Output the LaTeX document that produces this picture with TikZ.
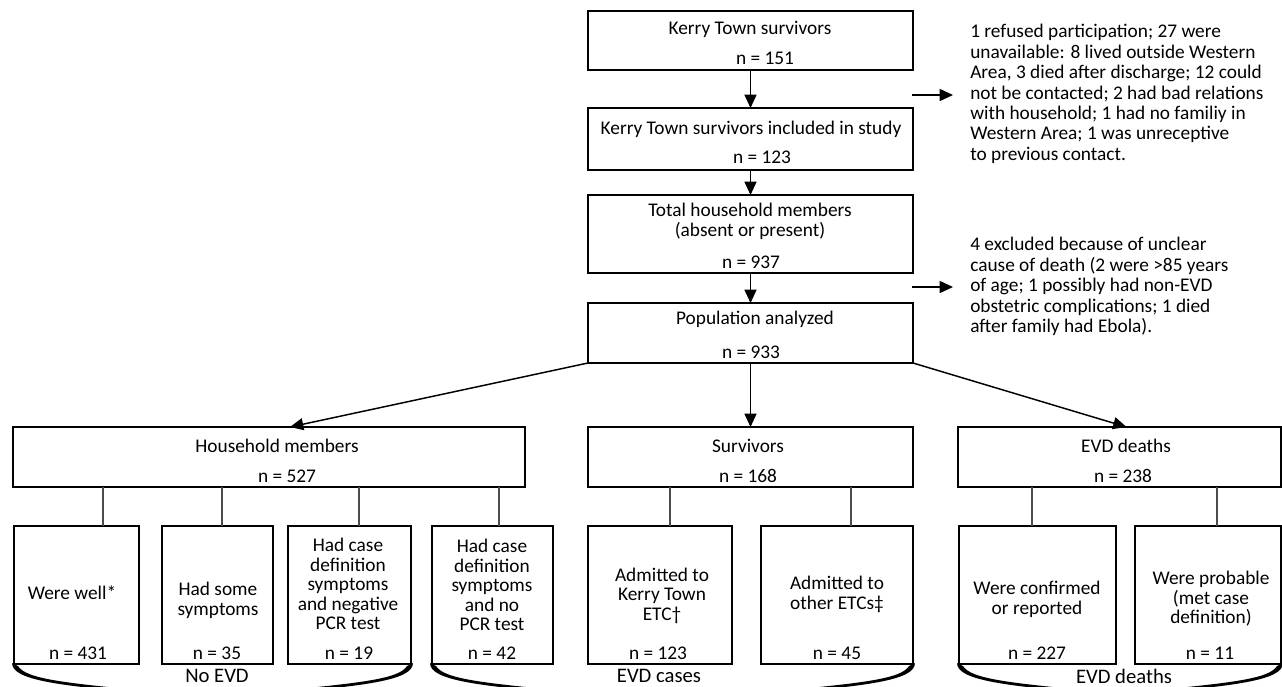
\documentclass[tikz,border=0pt]{standalone}
\usepackage{fontspec}
\setmainfont{Carlito}
\usetikzlibrary{arrows.meta,calc}
\newcommand\mkbox[5]{\node[box, minimum width={(#4-#2)*0.75pt}, minimum height={(#5-#3)*0.75pt}] (#1) at ({(#2+#4)/2},{(#3+#5)/2}) {};}
\newcommand\brc[2]{\fill (#1-2,663) .. controls (#1-2,681) and (#1+50,686) .. (#1+140,694) -- (#2-140,694) .. controls (#2-50,686) and (#2+2,681) .. (#2+2,663) -- (#2-4,666) .. controls (#2-12,679) and (#2-50,683) .. (#2-140,691.5) -- (#1+140,691.5) .. controls (#1+50,683) and (#1+12,679) .. (#1+4,666) -- cycle;}
\begin{document}
\begin{tikzpicture}[x=0.75pt,y=-0.75pt,
  box/.style={draw=black, line width=1.5pt, rectangle, inner sep=0pt, outer sep=0pt},
  txt/.style={inner sep=0pt, yshift=-2.25pt, align=center, font=\fontsize{14.5}{14.7}\selectfont, execute at begin node=\strut, execute at end node=\strut},
  ann/.style={inner sep=0pt, yshift=-2.25pt, align=left, anchor=west, font=\fontsize{14.5}{15.3}\selectfont, execute at begin node=\strut, execute at end node=\strut},
  lab/.style={inner sep=0pt, font=\fontsize{15.5}{16}\selectfont},
  arr/.style={line width=1.1pt, -{Triangle[length=10pt,width=9pt]}},
  conn/.style={line width=0.8pt, draw=black!70}]
\useasboundingbox (0,0) rectangle (1282,686);
\clip (0,0) rectangle (1282,686);
% top column
\mkbox{b1}{588}{11}{913}{70}
\mkbox{b2}{588}{108}{913}{170}
\mkbox{b3}{588}{195}{913}{273}
\mkbox{b4}{588}{303}{913}{363}
\node[txt] (t1a) at (750,28) {Kerry Town survivors};
\node[txt] (t1b) at (765,58) {n = 151};
\node[txt] (t2a) at (751,128) {Kerry Town survivors included in study};
\node[txt] (t2b) at (762,157) {n = 123};
\node[txt] (t3a) at (750,220) {Total household members\\(absent or present)};
\node[txt] (t3b) at (751,262) {n = 937};
\node[txt] (t4a) at (755,318) {Population analyzed};
\node[txt] (t4b) at (751,352) {n = 933};
% middle row
\mkbox{hm}{13}{427}{525}{487}
\mkbox{sv}{588}{427}{913}{487}
\mkbox{ed}{958}{427}{1281}{487}
\node[txt] (thma) at (277,446) {Household members};
\node[txt] (thmb) at (287,476) {n = 527};
\node[txt] (tsva) at (748,446) {Survivors};
\node[txt] (tsvb) at (748,476) {n = 168};
\node[txt] (teda) at (1126,446) {EVD deaths};
\node[txt] (tedb) at (1123,476) {n = 238};
% bottom row
\mkbox{bw1}{14}{526}{139}{664}
\mkbox{bw2}{162}{526}{273}{664}
\mkbox{bw3}{288}{526}{411}{664}
\mkbox{bw4}{432}{526}{553}{664}
\mkbox{bs1}{588}{526}{732}{664}
\mkbox{bs2}{761}{526}{913}{664}
\mkbox{bd1}{959}{526}{1116}{664}
\mkbox{bd2}{1135}{526}{1281}{664}
\node[txt] (tw1a) at (72,593) {Were well*};
\node[txt] (tw1b) at (78,653) {n = 431};
\node[txt] (tw2a) at (218,598.5) {Had some\\symptoms};
\node[txt] (tw2b) at (217,653) {n = 35};
\node[txt] (tw3a) at (348,584) {Had case\\definition\\symptoms\\and negative\\PCR test};
\node[txt] (tw3b) at (349,653) {n = 19};
\node[txt] (tw4a) at (492,585) {Had case\\definition\\symptoms\\and no\\PCR test};
\node[txt] (tw4b) at (492,653) {n = 42};
\node[txt] (ts1a) at (662,594) {Admitted to\\Kerry Town\\ETC†};
\node[txt] (ts1b) at (658,653) {n = 123};
\node[txt] (ts2a) at (837,593) {Admitted to\\other ETCs‡};
\node[txt] (ts2b) at (837,653) {n = 45};
\node[txt] (td1a) at (1037,598) {Were confirmed\\or reported};
\node[txt] (td1b) at (1037,653) {n = 227};
\node[txt] (td2a) at (1211,597.5) {Were probable\\(met case\\definition)};
\node[txt] (td2b) at (1210,653) {n = 11};
% annotations
\node[ann] (a1) at (970,92.5) {1 refused participation; 27 were\\unavailable: 8 lived outside Western\\Area, 3 died after discharge; 12 could\\not be contacted; 2 had bad relations\\with household; 1 had no familiy in\\Western Area; 1 was unreceptive\\to previous contact.};
\node[ann] (a2) at (970,285) {4 excluded because of unclear\\cause of death (2 were >85 years\\of age; 1 possibly had non-EVD\\obstetric complications; 1 died\\after family had Ebola).};
% arrows
\draw[arr] (b1) -- (b2);
\draw[arr] (b2) -- (b3);
\draw[arr] (b3) -- (b4);
\draw[arr] (b4) -- (sv);
\draw[arr] (b4.south west) -- ($(hm.north)+(21,0)$);
\draw[arr] (b4.south east) -- ($(ed.north)+(7,0)$);
\coordinate (ar1s) at (912,95);
\coordinate (ar1e) at (953,95);
\coordinate (ar2s) at (912,287);
\coordinate (ar2e) at (953,287);
\draw[arr] (ar1s) -- (ar1e);
\draw[arr] (ar2s) -- (ar2e);
% connectors
\foreach \n/\p/\dx in {bw1/hm/26.5, bw2/hm/4.5, bw3/hm/9.5, bw4/hm/6.5, bs1/sv/10, bs2/sv/14, bd1/ed/-5.5, bd2/ed/9}{
  \coordinate (c\n) at ($(\n.north)+(\dx,0)$);
  \draw[conn] (c\n) -- (c\n |- \p.south);
}
% braces
\brc{14}{411}
\brc{432}{913}
\brc{959}{1281}
\node[lab] (l1) at (217,676) {No EVD};
\node[lab] (l2) at (659,676) {EVD cases};
\node[lab] (l3) at (1124,676) {EVD deaths};
\end{tikzpicture}
\end{document}
